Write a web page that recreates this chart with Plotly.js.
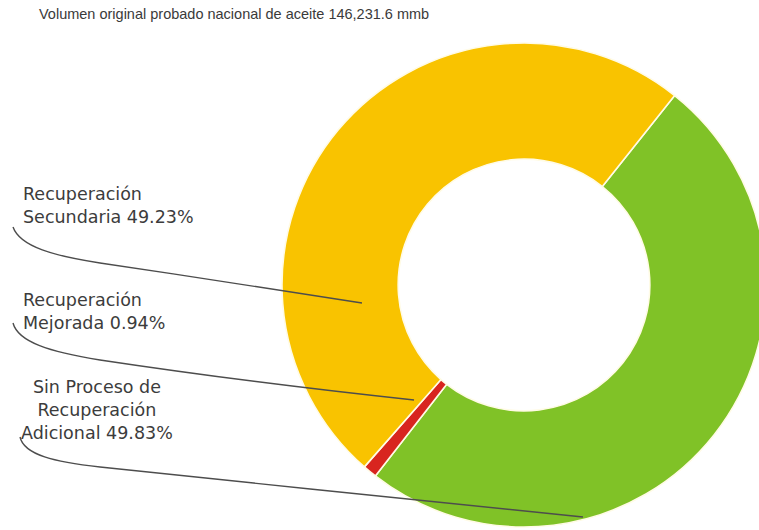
<!DOCTYPE html>
<html>
<head>
<meta charset="utf-8">
<script src="https://cdn.plot.ly/plotly-3.0.1.min.js"></script>
<style>html,body{margin:0;padding:0;background:#fff;overflow:hidden;}#chart{width:770px;height:530px;}</style>
</head>
<body>
<div id="chart"></div>
<script>
// ---- data ----
const titleText = 'Volumen original probado nacional de aceite 146,231.6 mmb';
const categories = ['Sin Proceso de Recuperación Adicional', 'Recuperación Mejorada', 'Recuperación Secundaria'];
const shares = [49.83, 0.94, 49.23];
const labelTexts = [
  'Sin Proceso de<br>Recuperación<br>Adicional 49.83%',
  'Recuperación<br>Mejorada 0.94%',
  'Recuperación<br>Secundaria 49.23%'
];
const sliceColors = ['#80C227', '#D8251F', '#F9C300'];

// ---- layout helpers (pixel -> paper); the paper is a bit wider than the window so the ring is cut at the right ----
const W = 770, H = 530;
const px = (x, y) => (x / W).toFixed(4) + ',' + (1 - y / H).toFixed(4);

const leaderPaths = [
  'M' + px(20, 437) + ' C' + px(24, 455) + ' ' + px(55, 462) + ' ' + px(100, 467) +
    ' C' + px(250, 484) + ' ' + px(450, 502) + ' ' + px(583, 517),
  'M' + px(13, 323) + ' C' + px(18, 342) + ' ' + px(50, 352) + ' ' + px(100, 360) +
    ' C' + px(200, 375) + ' ' + px(320, 390) + ' ' + px(414, 400),
  'M' + px(13, 227) + ' C' + px(20, 247) + ' ' + px(55, 256) + ' ' + px(100, 263) +
    ' C' + px(190, 276) + ' ' + px(290, 292) + ' ' + px(362, 303)
];

const labelPos = [
  {x: 97, y: 410, anchor: 'center', align: 'center'},
  {x: 21, y: 311, anchor: 'left', align: 'left'},
  {x: 21, y: 205, anchor: 'left', align: 'left'}
];

const trace = {
  type: 'pie',
  labels: categories,
  values: shares,
  sort: false,
  direction: 'clockwise',
  rotation: 38.5,
  hole: 0.52,
  textinfo: 'none',
  hoverinfo: 'label+percent',
  marker: {colors: sliceColors, line: {color: '#FFFBE6', width: 1.6}},
  domain: {x: [282 / W, 766 / W], y: [(530 - 527) / H, (530 - 43) / H]},
  showlegend: false
};

const annotations = labelTexts.map((t, i) => ({
  text: t, xref: 'paper', yref: 'paper',
  x: labelPos[i].x / W, y: 1 - labelPos[i].y / H,
  xanchor: labelPos[i].anchor, yanchor: 'middle', align: labelPos[i].align,
  showarrow: false,
  font: {family: 'DejaVu Sans, sans-serif', size: 17.5, color: '#3c3c3c'}
}));
annotations.push({
  text: titleText, xref: 'paper', yref: 'paper',
  x: 37 / W, y: 1 - 14 / H, xanchor: 'left', yanchor: 'middle', showarrow: false,
  font: {family: 'Liberation Sans, Arial, sans-serif', size: 14.5, color: '#3a3a3a'}
});

const shapes = leaderPaths.map(p => ({
  type: 'path', path: p, xref: 'paper', yref: 'paper',
  line: {color: '#4d4d4d', width: 1.4}, layer: 'above'
}));

const layout = {
  width: W, height: H,
  margin: {l: 0, r: 0, t: 0, b: 0},
  paper_bgcolor: '#ffffff',
  annotations: annotations,
  shapes: shapes
};

Plotly.newPlot('chart', [trace], layout, {displayModeBar: false, staticPlot: true});
</script>
</body>
</html>
